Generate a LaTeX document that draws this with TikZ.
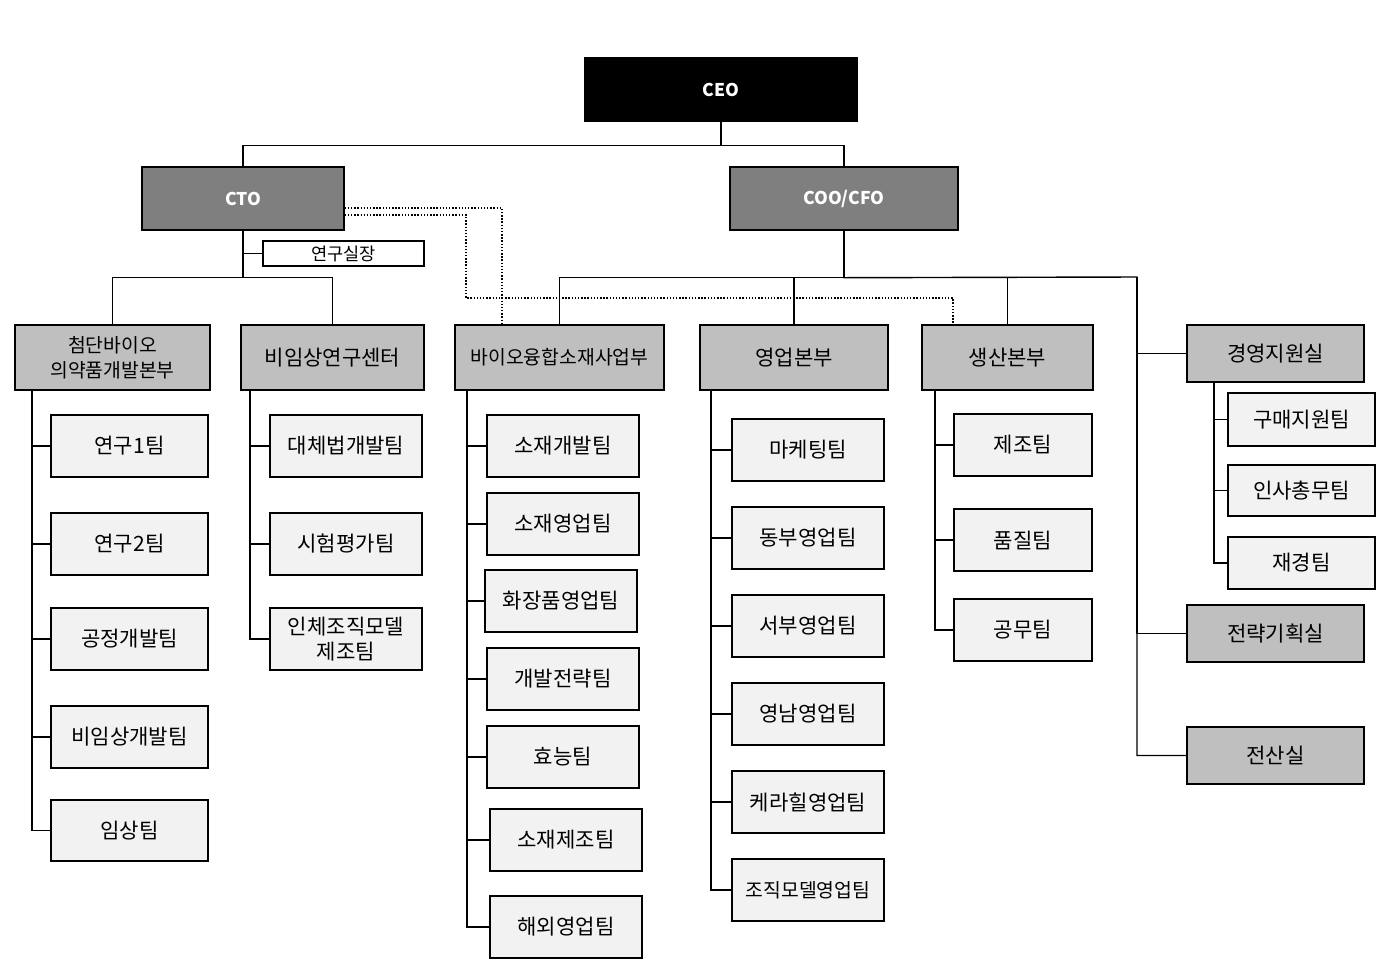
\documentclass[tikz,border=0pt]{standalone}
\usepackage{fontspec}
\setmainfont{Noto Sans CJK KR}
\usetikzlibrary{calc}
\newlength{\du}
\setlength{\du}{0.02cm}
\definecolor{topgray}{RGB}{127,127,127}
\definecolor{midgray}{RGB}{191,191,191}
\definecolor{leafgray}{RGB}{242,242,242}
% box from its pixel corners
\newcommand{\orgbox}[7]{\node[#6,minimum width={(#4-#2)*\du},minimum height={(#5-#3)*\du}] (#1) at ({(#2+#4)/2},{(#3+#5)/2}) {#7};}
\tikzset{
  base/.style={draw=black,line width=0.8pt,inner sep=0pt,align=center,font=\fontsize{12}{14}\selectfont},
  chief/.style={base,fill=black,text=white,font=\bfseries\fontsize{10}{12}\selectfont},
  officer/.style={base,fill=topgray,text=white,font=\bfseries\fontsize{10}{12}\selectfont},
  division/.style={base,fill=midgray},
  team/.style={base,fill=leafgray},
  note/.style={base,fill=white,font=\fontsize{10}{12}\selectfont},
  link/.style={line width=0.8pt},
  dotlink/.style={line width=0.8pt,densely dotted}
}
\begin{document}
\begin{tikzpicture}[x=0.02cm,y=-0.02cm]
\useasboundingbox (0,0) rectangle (1386,971);
\orgbox{ceo}{585}{58}{857}{121}{chief}{CEO}
\orgbox{cto}{142}{167}{344}{230}{officer}{CTO}
\orgbox{coo}{730}{167}{958}{230}{officer}{COO/CFO}
\orgbox{lab}{263}{241}{424}{266}{note}{연구실장}
% divisions
\orgbox{A}{15}{325}{210}{390}{division}{\fontsize{11}{13}\selectfont 첨단바이오\\\fontsize{11}{13}\selectfont 의약품개발본부}
\orgbox{B}{241}{325}{424}{390}{division}{비임상연구센터}
\orgbox{C}{455}{325}{664}{390}{division}{\fontsize{11}{13}\selectfont 바이오융합소재사업부}
\orgbox{D}{700}{325}{888}{390}{division}{영업본부}
\orgbox{E}{922}{325}{1093}{390}{division}{생산본부}
\orgbox{F}{1187}{325}{1364}{382}{division}{경영지원실}
\orgbox{G}{1187}{605}{1364}{662}{division}{전략기획실}
\orgbox{H}{1187}{727}{1364}{784}{division}{전산실}
% teams
\foreach \n/\ya/\yb/\t in {1/415/477/연구1팀,2/513/575/연구2팀,3/608/670/공정개발팀,4/706/768/비임상개발팀,5/800/861/임상팀}
  {\orgbox{A\n}{51}{\ya}{208}{\yb}{team}{\t}}
\orgbox{B1}{270}{415}{422}{477}{team}{대체법개발팀}
\orgbox{B2}{270}{513}{422}{575}{team}{시험평가팀}
\orgbox{B3}{270}{608}{422}{670}{team}{인체조직모델\\제조팀}
\foreach \n/\xa/\xb/\ya/\yb/\t in {1/487/639/415/477/소재개발팀,2/487/639/493/555/소재영업팀,3/485/637/570/632/화장품영업팀,4/487/639/648/710/개발전략팀,5/487/639/726/788/효능팀,6/490/642/809/871/소재제조팀,7/490/642/896/958/해외영업팀}
  {\orgbox{C\n}{\xa}{\ya}{\xb}{\yb}{team}{\t}}
\foreach \n/\ya/\yb/\t in {1/419/481/마케팅팀,2/507/569/동부영업팀,3/595/657/서부영업팀,4/683/745/영남영업팀,5/771/833/케라힐영업팀,6/859/921/{\fontsize{11}{13}\selectfont 조직모델영업팀}}
  {\orgbox{D\n}{732}{\ya}{884}{\yb}{team}{\t}}
\foreach \n/\ya/\yb/\t in {1/414/476/제조팀,2/509/571/품질팀,3/599/661/공무팀}
  {\orgbox{E\n}{954}{\ya}{1092}{\yb}{team}{\t}}
\foreach \n/\ya/\yb/\t in {1/393/446/구매지원팀,2/465/516/인사총무팀,3/537/589/재경팀}
  {\orgbox{F\n}{1228}{\ya}{1375}{\yb}{team}{\t}}
% top connectors
\draw[link] (ceo.south) -- ++(0,24) -| (cto.north);
\draw[link] (ceo.south) -- ++(0,24) -| (coo.north);
\draw[link] (cto.south) -- ++(0,47) -| (A.north);
\draw[link] (cto.south) -- ++(0,47) -| (B.north);
\draw[link] (cto.south |- lab.west) -- (lab.west);
\draw[link] (coo.south) -- ++(0,47) -| (C.north);
\draw[link] (coo.south) -- ++(0,47) -| (D.north);
\draw[link] (coo.south) -- ++(0,47) -| (E.north);
\coordinate (staff) at (1137,277);
\draw[link] (coo.south) -- ++(0,47) -- (staff) |- (H.west);
\draw[link] (staff) |- (F.west);
\draw[link] (staff) |- (G.west);
% dotted links
\coordinate (d1) at (466,298);
\draw[dotlink] ($(cto.east)+(0,9.5)$) -| ($(C.north)+(-57.5,0)$);
\draw[dotlink] ($(cto.east)+(0,16.5)$) -| (d1) -| ($(E.north)+(-54.5,0)$);
% team trunks
\foreach \d/\x/\k in {A/32/5,B/250/3,C/467/7,D/711/6,E/935/3,F/1214/3}{
  \coordinate (t\d) at (\x,0);
  \foreach \i in {1,...,\k}
    \draw[link] (\d.south -| t\d) |- (\d\i.west);
}
\end{tikzpicture}
\end{document}
